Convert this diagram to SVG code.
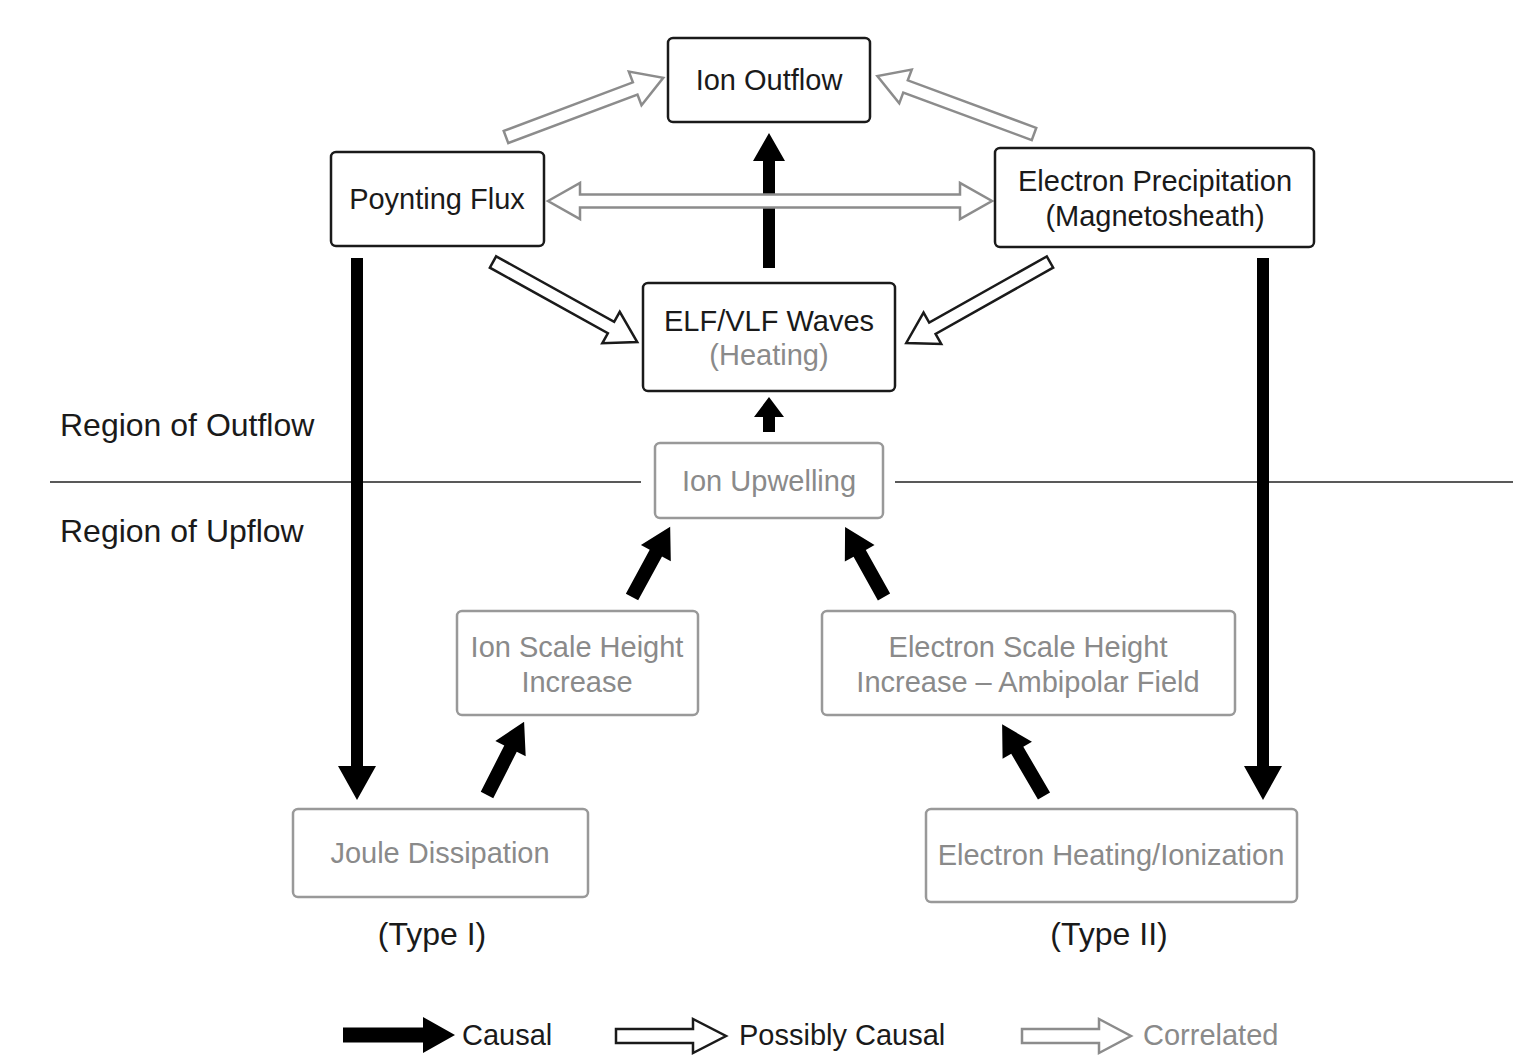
<svg xmlns="http://www.w3.org/2000/svg" width="1513" height="1056" viewBox="0 0 1513 1056">
<style>
text{font-family:"Liberation Sans",Arial,Helvetica,sans-serif;font-size:29px;text-anchor:middle;fill:#1a1a1a}
.gt{fill:#8a8a8a}
.big{font-size:32px}
.left{text-anchor:start}
.nb{fill:#fff;stroke:#1a1a1a;stroke-width:2.5}
.ng{fill:#fff;stroke:#999;stroke-width:2.5}
.c{fill:#000;stroke:none}
.h{fill:#fff;stroke:#1a1a1a;stroke-width:2.5;stroke-linejoin:miter}
.g{fill:#fff;stroke:#8c8c8c;stroke-width:2.5;stroke-linejoin:miter}
.sep{stroke:#222;stroke-width:1.5}
</style>
<rect width="1513" height="1056" fill="#fff"/>
<g id="region-labels">
<line class="sep" x1="50" y1="482" x2="641" y2="482"/>
<line class="sep" x1="895" y1="482" x2="1513" y2="482"/>
<text class="big left" x="60" y="436">Region of Outflow</text>
<text class="big left" x="60" y="542">Region of Upflow</text>
<text class="big" x="432" y="945">(Type I)</text>
<text class="big" x="1109" y="945">(Type II)</text>
</g>
<g id="connectors">
<polygon class="c" transform="translate(769,268) rotate(-90)" points="0,-6 107,-6 107,-16 135,0 107,16 107,6 0,6"/>
<polygon class="c" transform="translate(769,432) rotate(-90)" points="0,-6 15,-6 15,-15 35,0 15,15 15,6 0,6"/>
<polygon class="c" transform="translate(357,258) rotate(90)" points="0,-6 508,-6 508,-19 542,0 508,19 508,6 0,6"/>
<polygon class="c" transform="translate(1263,258) rotate(90)" points="0,-6 508,-6 508,-19 542,0 508,19 508,6 0,6"/>
<polygon class="c" transform="translate(487,795) rotate(-63.1)" points="0,-7 52,-7 52,-17 82,0 52,17 52,7 0,7"/>
<polygon class="c" transform="translate(632,597) rotate(-61.5)" points="0,-7 50,-7 50,-17 80,0 50,17 50,7 0,7"/>
<polygon class="c" transform="translate(884,597) rotate(-119.1)" points="0,-7 50,-7 50,-17 80,0 50,17 50,7 0,7"/>
<polygon class="c" transform="translate(1044,796) rotate(-120.3)" points="0,-7 53,-7 53,-17 83,0 53,17 53,7 0,7"/>
<polygon class="h" transform="translate(493,262) rotate(29.05)" points="0,-6.5 135,-6.5 135,-18 165,0 135,18 135,6.5 0,6.5"/>
<polygon class="h" transform="translate(1050,262) rotate(150.6)" points="0,-6.5 135,-6.5 135,-18 165,0 135,18 135,6.5 0,6.5"/>
<polygon class="g" transform="translate(506,137) rotate(-20.6)" points="0,-6.5 138,-6.5 138,-18 168,0 138,18 138,6.5 0,6.5"/>
<polygon class="g" transform="translate(1034,134) rotate(-159.7)" points="0,-6.5 137,-6.5 137,-18 167,0 137,18 137,6.5 0,6.5"/>
<polygon class="g" transform="translate(548,201)" points="0,0 32,-18 32,-6.5 412,-6.5 412,-18 444,0 412,18 412,6.5 32,6.5 32,18"/>
</g>
<g id="ion-outflow"><rect class="nb" x="668" y="38" width="202" height="84" rx="5"/><text x="769" y="90">Ion Outflow</text></g>
<g id="poynting-flux"><rect class="nb" x="331" y="152" width="213" height="94" rx="5"/><text x="437" y="209">Poynting Flux</text></g>
<g id="electron-precipitation"><rect class="nb" x="995" y="148" width="319" height="99" rx="5"/><text x="1155" y="191">Electron Precipitation</text><text x="1155" y="226">(Magnetosheath)</text></g>
<g id="elf-vlf-waves"><rect class="nb" x="643" y="283" width="252" height="108" rx="5"/><text x="769" y="331">ELF/VLF Waves</text><text class="gt" x="769" y="365">(Heating)</text></g>
<g id="ion-upwelling"><rect class="ng" x="655" y="443" width="228" height="75" rx="5"/><text class="gt" x="769" y="491">Ion Upwelling</text></g>
<g id="ion-scale-height"><rect class="ng" x="457" y="611" width="241" height="104" rx="5"/><text class="gt" x="577" y="657">Ion Scale Height</text><text class="gt" x="577" y="692">Increase</text></g>
<g id="electron-scale-height"><rect class="ng" x="822" y="611" width="413" height="104" rx="5"/><text class="gt" x="1028" y="657">Electron Scale Height</text><text class="gt" x="1028" y="692">Increase – Ambipolar Field</text></g>
<g id="joule-dissipation"><rect class="ng" x="293" y="809" width="295" height="88" rx="5"/><text class="gt" x="440" y="863">Joule Dissipation</text></g>
<g id="electron-heating"><rect class="ng" x="926" y="809" width="371" height="93" rx="5"/><text class="gt" x="1111" y="865">Electron Heating/Ionization</text></g>
<g id="legend">
<polygon class="c" transform="translate(343,1035)" points="0,-7.5 80,-7.5 80,-18 112,0 80,18 80,7.5 0,7.5"/>
<text class="left" x="462" y="1045">Causal</text>
<polygon class="h" transform="translate(616,1036)" points="0,-7 77,-7 77,-17 110,0 77,17 77,7 0,7"/>
<text class="left" x="739" y="1045">Possibly Causal</text>
<polygon class="g" transform="translate(1022,1036)" points="0,-7 77,-7 77,-17 109,0 77,17 77,7 0,7"/>
<text class="left gt" x="1143" y="1045">Correlated</text>
</g>
</svg>
